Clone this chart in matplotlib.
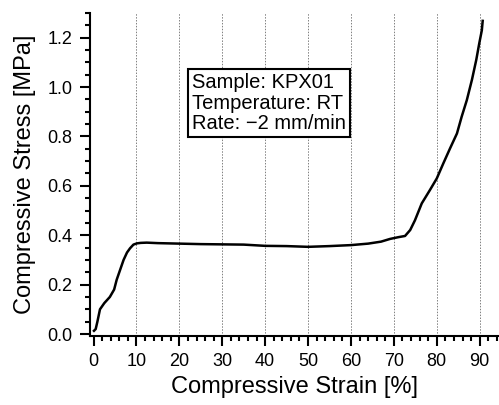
import numpy as np
import matplotlib
matplotlib.use("Agg")
import matplotlib.pyplot as plt
from matplotlib.ticker import MultipleLocator, FormatStrFormatter

# strain [%] and stress [MPa]
strain = [0.1, 0.5, 0.9, 1.5, 2.5, 3.8, 4.8, 5.4, 6.2, 7.0, 7.8, 8.5, 9.3, 10.1,
          11.0, 12.4, 15, 20, 25, 30, 35, 40, 45, 50, 55, 60, 64, 67, 69.1, 71, 72.6,
          73.8, 74.9, 76.5, 78.4, 80, 81.5, 83.1, 84.7, 85.8, 87.0, 88.2, 89.2, 89.9, 90.5, 90.7]
stress = [0.013, 0.02, 0.05, 0.10, 0.125, 0.15, 0.18, 0.22, 0.26, 0.30, 0.33, 0.347, 0.362, 0.367,
          0.369, 0.370, 0.368, 0.366, 0.364, 0.363, 0.362, 0.357, 0.356, 0.353, 0.356, 0.360, 0.366, 0.374, 0.385, 0.392, 0.397,
          0.421, 0.46, 0.529, 0.583, 0.63, 0.69, 0.752, 0.812, 0.88, 0.947, 1.03, 1.11, 1.177, 1.23, 1.268]

info_lines = ["Sample: KPX01", "Temperature: RT", "Rate: \u22122 mm/min"]

plt.rcParams['font.family'] = ['Liberation Sans', 'DejaVu Sans']

fig = plt.figure(figsize=(4.99, 4.05), dpi=100)
ax = fig.add_axes([0.1804, 0.171, 0.8196, 0.797])

ax.plot(strain, stress, color="black", linewidth=1.8)

ax.set_xlim(-0.82, 94.5)
ax.set_ylim(-0.007, 1.30)

ax.set_xticks(np.arange(0, 91, 10))
ax.xaxis.set_minor_locator(MultipleLocator(2))
ax.yaxis.set_major_locator(MultipleLocator(0.2))
ax.yaxis.set_minor_locator(MultipleLocator(0.05))
ax.yaxis.set_major_formatter(FormatStrFormatter("%.1f"))

for s in ("top", "right"):
    ax.spines[s].set_visible(False)
for s in ("left", "bottom"):
    ax.spines[s].set_linewidth(1.5)

ax.tick_params(which="major", direction="out", length=7.5, width=1.5, labelsize=13, pad=5)
ax.tick_params(which="minor", direction="out", length=3.8, width=1.5)

for gx in range(10, 91, 10):
    ax.axvline(gx, color="gray", linestyle=(0, (1.5, 1.5)), linewidth=0.7, zorder=0)

ax.set_xlabel("Compressive Strain [%]", fontsize=17, labelpad=4)
ax.set_ylabel("Compressive Stress [MPa]", fontsize=17, labelpad=8)

ax.text(22.9, 1.055, "\n".join(info_lines), fontsize=14.5, va="top", ha="left",
        linespacing=1.08,
        bbox=dict(facecolor="white", edgecolor="black", linewidth=1.5, boxstyle="square,pad=0.2"))

fig.savefig("out.png", dpi=100)
